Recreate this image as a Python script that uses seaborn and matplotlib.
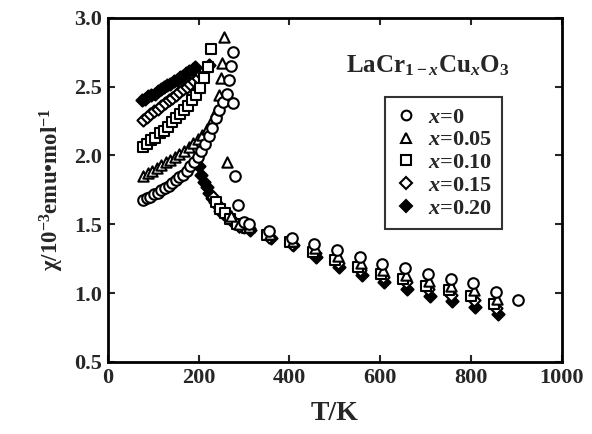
import numpy as np
import pandas as pd
import matplotlib
matplotlib.use("Agg")
import matplotlib.pyplot as plt
import seaborn as sns
from matplotlib.lines import Line2D

# ---------------- data ----------------
labels = ["$x$=0", "$x$=0.05", "$x$=0.10", "$x$=0.15", "$x$=0.20"]

T_x0 = [78, 86, 94, 102, 110, 118, 126, 134, 142, 150, 158, 166, 174, 182, 190, 198,
        206, 214, 222, 230, 238, 246, 254, 262, 268, 272, 275, 276, 280, 287, 300,
        310, 355, 405, 455, 505, 555, 605, 655, 705, 755, 805, 855, 903]
chi_x0 = [1.68, 1.69, 1.70, 1.72, 1.73, 1.75, 1.76, 1.78, 1.80, 1.82, 1.84, 1.86, 1.89, 1.92, 1.95, 1.99,
          2.03, 2.08, 2.14, 2.20, 2.27, 2.33, 2.39, 2.45, 2.55, 2.65, 2.75, 2.38, 1.85, 1.64, 1.52,
          1.50, 1.45, 1.40, 1.36, 1.31, 1.26, 1.21, 1.18, 1.14, 1.10, 1.07, 1.01, 0.95]

T_x05 = [78, 88, 98, 108, 118, 128, 138, 148, 158, 168, 178, 188, 198, 208, 218, 228, 238,
         246, 250, 252, 255, 262, 272, 290,
         312, 357, 407, 457, 507, 557, 607, 657, 707, 757, 807, 857]
chi_x05 = [1.85, 1.87, 1.89, 1.91, 1.93, 1.95, 1.97, 1.99, 2.01, 2.03, 2.06, 2.09, 2.12, 2.15, 2.19, 2.24, 2.32,
           2.44, 2.56, 2.67, 2.86, 1.95, 1.56, 1.50,
           1.48, 1.43, 1.38, 1.33, 1.27, 1.22, 1.17, 1.13, 1.09, 1.05, 1.02, 0.96]

T_x10 = [78, 87, 96, 105, 114, 123, 132, 141, 150, 159, 168, 177, 186, 195, 204, 212, 220, 228,
         238, 248, 258, 270, 285,
         306, 351, 401, 451, 501, 551, 601, 651, 701, 751, 801, 851]
chi_x10 = [2.06, 2.08, 2.11, 2.13, 2.16, 2.18, 2.21, 2.24, 2.27, 2.30, 2.33, 2.36, 2.40, 2.44, 2.49, 2.56, 2.64, 2.77,
           1.66, 1.61, 1.58, 1.54, 1.50,
           1.47, 1.42, 1.37, 1.30, 1.24, 1.19, 1.14, 1.10, 1.05, 1.02, 0.98, 0.92]

T_x15 = [78, 86, 94, 102, 110, 118, 126, 134, 142, 150, 158, 166, 174, 182, 190, 198, 206, 214, 222,
         232, 242, 252, 262, 275, 290,
         310, 356, 406, 456, 506, 556, 606, 656, 706, 756, 806, 856]
chi_x15 = [2.26, 2.28, 2.30, 2.32, 2.34, 2.36, 2.38, 2.40, 2.42, 2.44, 2.46, 2.48, 2.50, 2.52, 2.54, 2.56, 2.59, 2.62, 2.66,
           1.70, 1.64, 1.60, 1.56, 1.52, 1.49,
           1.47, 1.41, 1.36, 1.29, 1.22, 1.17, 1.12, 1.08, 1.03, 0.99, 0.95, 0.89]

T_x20 = [75, 82, 89, 96, 103, 110, 117, 124, 131, 138, 145, 152, 159, 166, 173, 180, 187, 193,
         200, 206, 212, 218, 224, 230, 236, 242, 248, 254, 260, 266, 272, 280, 290, 300,
         314, 359, 409, 459, 509, 559, 609, 659, 709, 759, 809, 859]
chi_x20 = [2.40, 2.41, 2.43, 2.44, 2.45, 2.47, 2.48, 2.50, 2.51, 2.52, 2.54, 2.55, 2.57, 2.58, 2.60, 2.61, 2.63, 2.64,
           1.92, 1.86, 1.81, 1.77, 1.73, 1.69, 1.66, 1.63, 1.60, 1.58, 1.56, 1.55, 1.53, 1.51, 1.49, 1.48,
           1.46, 1.40, 1.35, 1.26, 1.19, 1.13, 1.08, 1.03, 0.98, 0.94, 0.90, 0.85]

x_ticks = [0, 200, 400, 600, 800, 1000]
y_ticks = [0.5, 1.0, 1.5, 2.0, 2.5, 3.0]

# ---------------- style ----------------
sns.set_theme(style="ticks")
plt.rcParams["font.family"] = ["Liberation Serif", "DejaVu Serif"]
plt.rcParams["font.weight"] = "bold"
plt.rcParams["mathtext.fontset"] = "custom"
plt.rcParams["mathtext.rm"] = "Liberation Serif:bold"
plt.rcParams["mathtext.it"] = "Liberation Serif:italic:bold"
plt.rcParams["mathtext.bf"] = "Liberation Serif:bold"

fig = plt.figure(figsize=(5.92, 4.34), dpi=100)
ax = fig.add_axes([0.182, 0.166, 0.767, 0.793])

series = [
    (T_x20, chi_x20, "D", "black", 38),
    (T_x15, chi_x15, "D", "white", 38),
    (T_x10, chi_x10, "s", "white", 50),
    (T_x05, chi_x05, "^", "white", 55),
    (T_x0, chi_x0, "o", "white", 58),
]
for T, chi, m, fc, s in series:
    df = pd.DataFrame({"T": T, "chi": chi})
    sns.scatterplot(data=df, x="T", y="chi", marker=m, s=s, facecolor=fc,
                    edgecolor="black", linewidth=1.5, ax=ax, legend=False, zorder=3)

ax.set_xlim(0, 1000)
ax.set_ylim(0.5, 3.0)
ax.set_xticks(x_ticks)
ax.set_yticks(y_ticks)
ax.set_xticklabels([str(v) for v in x_ticks])
ax.set_yticklabels([f"{v:.1f}" for v in y_ticks])
ax.tick_params(direction="in", length=5, width=1.5, top=True, right=True,
               labelsize=16, pad=4)
for lab in ax.get_xticklabels() + ax.get_yticklabels():
    lab.set_fontweight("bold")
for sp in ax.spines.values():
    sp.set_visible(True)
    sp.set_linewidth(2)
    sp.set_color("black")

ax.set_xlabel("T/K", fontsize=20, fontweight="bold", labelpad=10)
ax.set_ylabel("χ/10$^{-3}$emu•mol$^{-1}$", fontsize=16.5, fontweight="bold", labelpad=6)

ax.text(0.885, 0.862, "LaCr$_{\\mathit{1-x}}$Cu$_{x}$O$_{3}$", transform=ax.transAxes,
        ha="right", va="center", fontsize=18, fontweight="bold")

handles = [
    Line2D([], [], ls="none", marker="o", ms=7, mfc="white", mec="black", mew=1.5),
    Line2D([], [], ls="none", marker="^", ms=7, mfc="white", mec="black", mew=1.5),
    Line2D([], [], ls="none", marker="s", ms=6.5, mfc="white", mec="black", mew=1.5),
    Line2D([], [], ls="none", marker="D", ms=6, mfc="white", mec="black", mew=1.5),
    Line2D([], [], ls="none", marker="D", ms=6, mfc="black", mec="black", mew=1.5),
]
leg = ax.legend(handles, labels, loc="upper left", bbox_to_anchor=(0.61, 0.77),
                frameon=True, fancybox=False, edgecolor="black", fontsize=16,
                handlelength=1.0, handletextpad=0.5, labelspacing=0.1,
                borderpad=0.45, borderaxespad=0)
leg.get_frame().set_linewidth(1.5)
for t in leg.get_texts():
    t.set_fontweight("bold")

fig.savefig("out.png", dpi=100)
